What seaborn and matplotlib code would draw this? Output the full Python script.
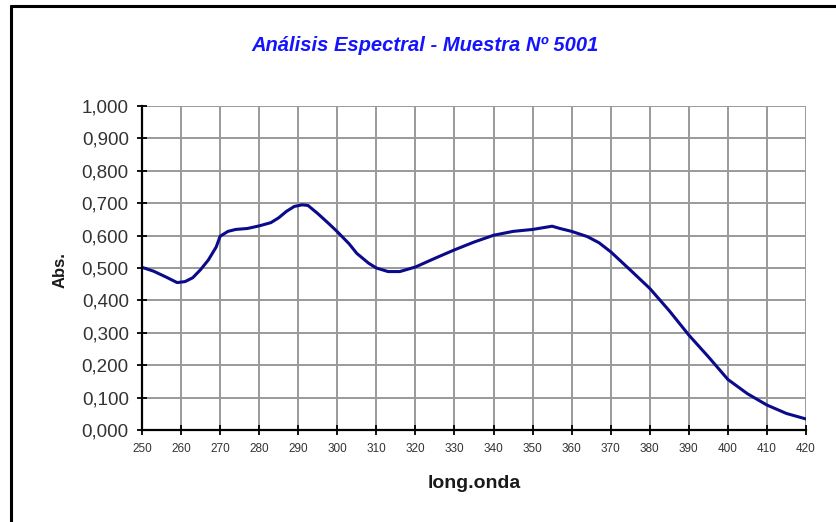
import matplotlib
matplotlib.use("Agg")
import matplotlib.pyplot as plt
from matplotlib.lines import Line2D
from matplotlib.ticker import FuncFormatter, MultipleLocator
import pandas as pd
import seaborn as sns

# Absorbance spectrum of sample 5001
wavelength = [250, 253, 256, 259, 261, 263, 265, 267, 269, 270, 272, 274, 277,
              280, 283, 285, 287, 289, 291, 292.5, 295, 298, 300, 303, 305, 308,
              310, 313, 316, 320, 325, 330, 335, 340, 345, 350, 353, 355, 357,
              360, 364, 367, 370, 375, 380, 385, 390, 395, 400, 405, 410, 415, 420]
absorbance = [0.502, 0.490, 0.473, 0.455, 0.458, 0.470, 0.495, 0.525, 0.565, 0.598,
              0.613, 0.619, 0.622, 0.630, 0.640, 0.655, 0.675, 0.690, 0.695, 0.693,
              0.668, 0.635, 0.612, 0.575, 0.545, 0.515, 0.500, 0.489, 0.489, 0.503,
              0.530, 0.556, 0.580, 0.601, 0.613, 0.619, 0.625, 0.629, 0.622, 0.613,
              0.597, 0.578, 0.550, 0.494, 0.437, 0.368, 0.293, 0.226, 0.156, 0.112,
              0.077, 0.051, 0.034]

title = "Análisis Espectral - Muestra Nº 5001"
x_label = "long.onda"
y_label = "Abs."

df = pd.DataFrame({"wl": wavelength, "abs": absorbance})

sns.set_theme(style="white")
plt.rcParams["font.family"] = ["Liberation Sans", "DejaVu Sans"]

fig = plt.figure(figsize=(8.36, 5.22), dpi=100)
fig.patch.set_facecolor("white")
ax = fig.add_axes([142 / 836, 1 - 430 / 522, 664 / 836, 324 / 522])

sns.lineplot(data=df, x="wl", y="abs", ax=ax, color="#0a0a8a", linewidth=2.2)

ax.set_xlim(250, 420)
ax.set_ylim(0, 1.0)
ax.xaxis.set_major_locator(MultipleLocator(10))
ax.yaxis.set_major_locator(MultipleLocator(0.1))
ax.yaxis.set_major_formatter(FuncFormatter(lambda v, p: f"{v:.3f}".replace(".", ",")))
ax.grid(True, color="#9a9a9a", linewidth=1.4)
ax.set_axisbelow(True)

for side in ("top", "right"):
    ax.spines[side].set_visible(False)
for side in ("left", "bottom"):
    ax.spines[side].set_color("black")
    ax.spines[side].set_linewidth(1.6)

ax.tick_params(axis="both", which="major", direction="inout", length=7, width=1.3,
               color="black", left=True, bottom=True)
ax.tick_params(axis="y", labelsize=13.5, labelcolor="#333333", pad=6)
ax.tick_params(axis="x", labelsize=8.5, labelcolor="#333333", pad=6)

ax.set_xlabel("")
ax.set_ylabel("")
fig.text(474 / 836, 1 - 484 / 522, x_label, ha="center", va="center",
         fontsize=14, fontweight="bold", color="#1a1a1a")
fig.text(60 / 836, 1 - 270 / 522, y_label, ha="center", va="center", rotation=90,
         fontsize=12, fontweight="bold", color="#1a1a1a")
fig.text(425 / 836, 1 - 45 / 522, title, ha="center", va="center",
         fontsize=14.5, fontweight="bold", fontstyle="italic", color="#1414ff")

# Chart frame along the left and top edges
fig.add_artist(Line2D([11 / 836, 11 / 836], [0, 1 - 6 / 522], transform=fig.transFigure,
                      color="black", linewidth=2.2))
fig.add_artist(Line2D([11 / 836, 1], [1 - 6 / 522, 1 - 6 / 522], transform=fig.transFigure,
                      color="black", linewidth=2.2))

fig.savefig("out.png", dpi=100, facecolor="white")
